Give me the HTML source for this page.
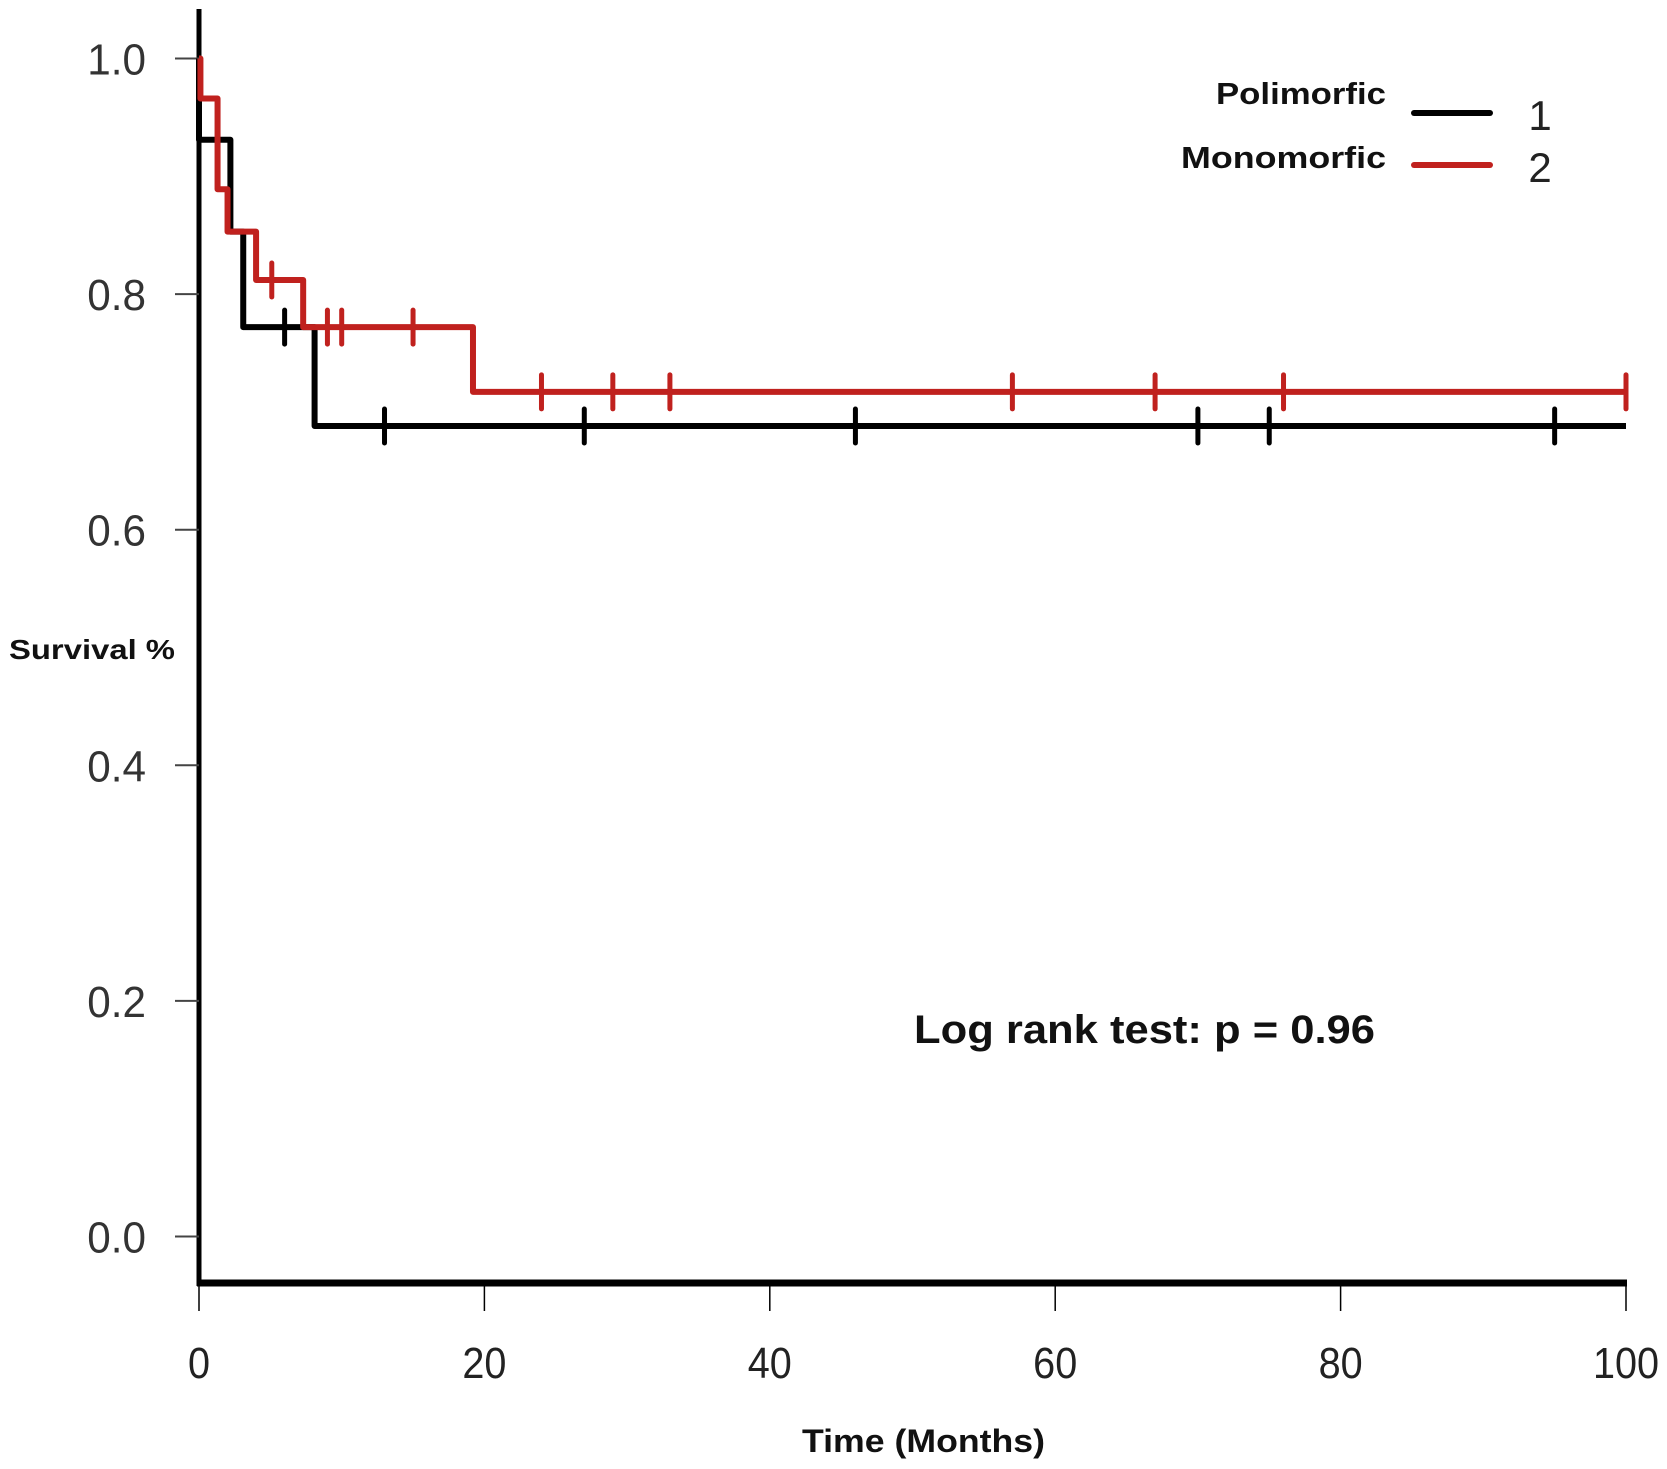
<!DOCTYPE html>
<html><head><meta charset="utf-8"><style>
html,body{margin:0;padding:0;background:#fff;}
svg{display:block;}
</style></head><body>
<svg id="chart" width="1667" height="1469" viewBox="0 0 1667 1469" xmlns="http://www.w3.org/2000/svg" font-family="Liberation Sans, sans-serif">
</svg>
<script>
const xTicks = [0, 20, 40, 60, 80, 100];
const yTicks = [0.0, 0.2, 0.4, 0.6, 0.8, 1.0];
const yTickLabels = ["0.0", "0.2", "0.4", "0.6", "0.8", "1.0"];
const polyTimes = [0, 0, 2.2, 3.1, 8.1, 100];
const polySurv = [1.0, 0.931, 0.853, 0.772, 0.688, 0.688];
const polyCensor = [6, 13, 27, 46, 70, 75, 95];
const monoTimes = [0, 0.1, 1.3, 2.0, 4.0, 7.3, 19.2, 100];
const monoSurv = [1.0, 0.966, 0.889, 0.853, 0.812, 0.772, 0.717, 0.717];
const monoCensor = [5.1, 9, 10, 15, 24, 29, 33, 57, 67, 76, 100];

const NS = "http://www.w3.org/2000/svg";
const svg = document.getElementById('chart');
const X0 = 199, X1 = 1626, Y0 = 1236.5, Y1 = 58.5;
function xs(t){ return X0 + (X1 - X0) * t / 100; }
function ys(v){ return Y0 - (Y0 - Y1) * v; }
function mk(tag, attrs){ const e = document.createElementNS(NS, tag); for (const k in attrs) e.setAttribute(k, attrs[k]); svg.appendChild(e); return e; }

let e = mk('line', {x1: X0, y1: 9, x2: X0, y2: 1286, stroke: '#000', 'stroke-width': 5});


e = mk('line', {x1: X0 - 2, y1: 1283, x2: X1 + 1, y2: 1283, stroke: '#000', 'stroke-width': 7});



xTicks.forEach(function(t){
  const tk = mk('line', {x1: xs(t), y1: 1283, x2: xs(t), y2: 1311, stroke: '#000', 'stroke-width': 1.5});
  
  
  const lb = mk('text', {x: xs(t), y: 1378, 'text-anchor': 'middle', 'font-size': 44, fill: '#222', transform: 'translate(' + xs(t) + ',0) scale(0.9,1) translate(' + (-xs(t)) + ',0)'});
  lb.textContent = String(t);
  
  
});
yTicks.forEach(function(v, i){
  const tk = mk('line', {x1: 175, y1: ys(v), x2: X0, y2: ys(v), stroke: '#444', 'stroke-width': 2});
  
  
  const lb = mk('text', {x: 146, y: ys(v) + 16, 'text-anchor': 'end', 'font-size': 44, fill: '#333', transform: 'translate(146,0) scale(0.96,1) translate(-146,0)'});
  lb.textContent = yTickLabels[i];
  
  
});

function stepPath(times, surv){
  let d = 'M' + xs(times[0]) + ',' + ys(surv[0]);
  for (let i = 1; i < times.length; i++){
    d += ' H' + xs(times[i]) + ' V' + ys(surv[i]);
  }
  return d;
}
function survAt(times, surv, t){
  let s = surv[0];
  for (let i = 0; i < times.length; i++){ if (times[i] <= t) s = surv[i]; }
  return s;
}
function drawSeries(times, surv, cens, color, name){
  const p = mk('path', {d: stepPath(times, surv), fill: 'none', stroke: color, 'stroke-width': 6, 'stroke-linejoin': 'round'});
  
  
  cens.forEach(function(t){
    const y = ys(survAt(times, surv, t));
    const c = mk('line', {x1: xs(t), y1: y - 17, x2: xs(t), y2: y + 17, stroke: color, 'stroke-width': 5, 'stroke-linecap': 'round'});
    
    
  });
}
drawSeries(polyTimes, polySurv, polyCensor, '#000', 'polimorfic');
drawSeries(monoTimes, monoSurv, monoCensor, '#c0211e', 'monomorfic');

e = mk('text', {x: 9, y: 659, 'font-size': 28, 'font-weight': 'bold', fill: '#111', textLength: 166, lengthAdjust: 'spacingAndGlyphs'});
e.textContent = 'Survival %';


e = mk('text', {x: 802, y: 1452, 'font-size': 32, 'font-weight': 'bold', fill: '#111', textLength: 243, lengthAdjust: 'spacingAndGlyphs'});
e.textContent = 'Time (Months)';


e = mk('text', {x: 914, y: 1043, 'font-size': 40, 'font-weight': 'bold', fill: '#111', textLength: 461, lengthAdjust: 'spacingAndGlyphs'});
e.textContent = 'Log rank test: p = 0.96';



e = mk('text', {x: 1386, y: 104, 'text-anchor': 'end', 'font-size': 31, 'font-weight': 'bold', fill: '#111', textLength: 170, lengthAdjust: 'spacingAndGlyphs'});
e.textContent = 'Polimorfic';


e = mk('text', {x: 1386, y: 168, 'text-anchor': 'end', 'font-size': 31, 'font-weight': 'bold', fill: '#111', textLength: 205, lengthAdjust: 'spacingAndGlyphs'});
e.textContent = 'Monomorfic';


e = mk('line', {x1: 1414, y1: 113, x2: 1490, y2: 113, stroke: '#000', 'stroke-width': 6, 'stroke-linecap': 'round'});


e = mk('line', {x1: 1414, y1: 165, x2: 1490, y2: 165, stroke: '#c0211e', 'stroke-width': 6, 'stroke-linecap': 'round'});


e = mk('text', {x: 1540, y: 130, 'text-anchor': 'middle', 'font-size': 42, fill: '#222'});
e.textContent = '1';


e = mk('text', {x: 1540, y: 182, 'text-anchor': 'middle', 'font-size': 42, fill: '#222'});
e.textContent = '2';


</script>
</body></html>
